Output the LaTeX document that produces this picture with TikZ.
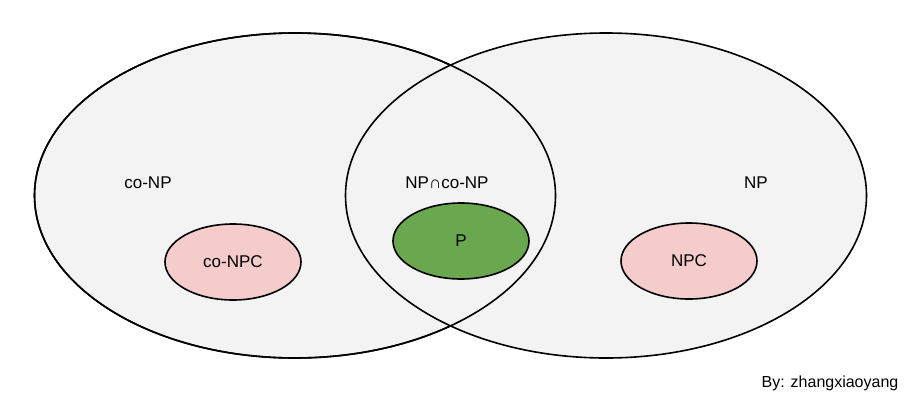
\documentclass[tikz,border=0pt]{standalone}
\usepackage{fontspec}
\setmainfont{Liberation Sans}
\usetikzlibrary{shapes.geometric,positioning}

\definecolor{setgray}{HTML}{F3F3F3}
\definecolor{npcpink}{HTML}{F4CCCC}
\definecolor{pgreen}{HTML}{6AA84F}

\tikzset{
  bigset/.style={ellipse, draw=black, line width=1.6pt, fill=setgray, minimum width=521pt, minimum height=325pt, inner sep=0pt},
  smallset/.style={ellipse, draw=black, line width=1.6pt, minimum width=136pt, minimum height=76pt, inner sep=0pt, font=\fontsize{17}{19}\selectfont},
  setlabel/.style={font=\fontsize{17}{19}\selectfont}
}

\begin{document}
\begin{tikzpicture}[x=1pt,y=-1pt]
\useasboundingbox (0,0) rectangle (920,407);

\coordinate (c0) at (295,195.5);
\coordinate (c1) at (606,195.5);

\node[bigset] (coNP) at (c0) {};
\node[bigset] (NP) at (c1) {};
\draw[line width=1.6pt] (c0) ellipse [x radius=260.5, y radius=162.5];

\node[setlabel] (l0) at (148,183) {co-NP};
\node[setlabel] (l1) at (447,183) {NP∩co-NP};
\node[setlabel] (l2) at (756,183) {NP};

\node[smallset, fill=npcpink] (coNPC) at (233,262) {co-NPC};
\node[smallset, fill=pgreen] (P) at (461,241) {P};
\node[smallset, fill=npcpink] (NPC) at (689,261) {NPC};

\node[font=\fontsize{16}{18}\selectfont] (by) at (830,383) {By: zhangxiaoyang};
\end{tikzpicture}
\end{document}
